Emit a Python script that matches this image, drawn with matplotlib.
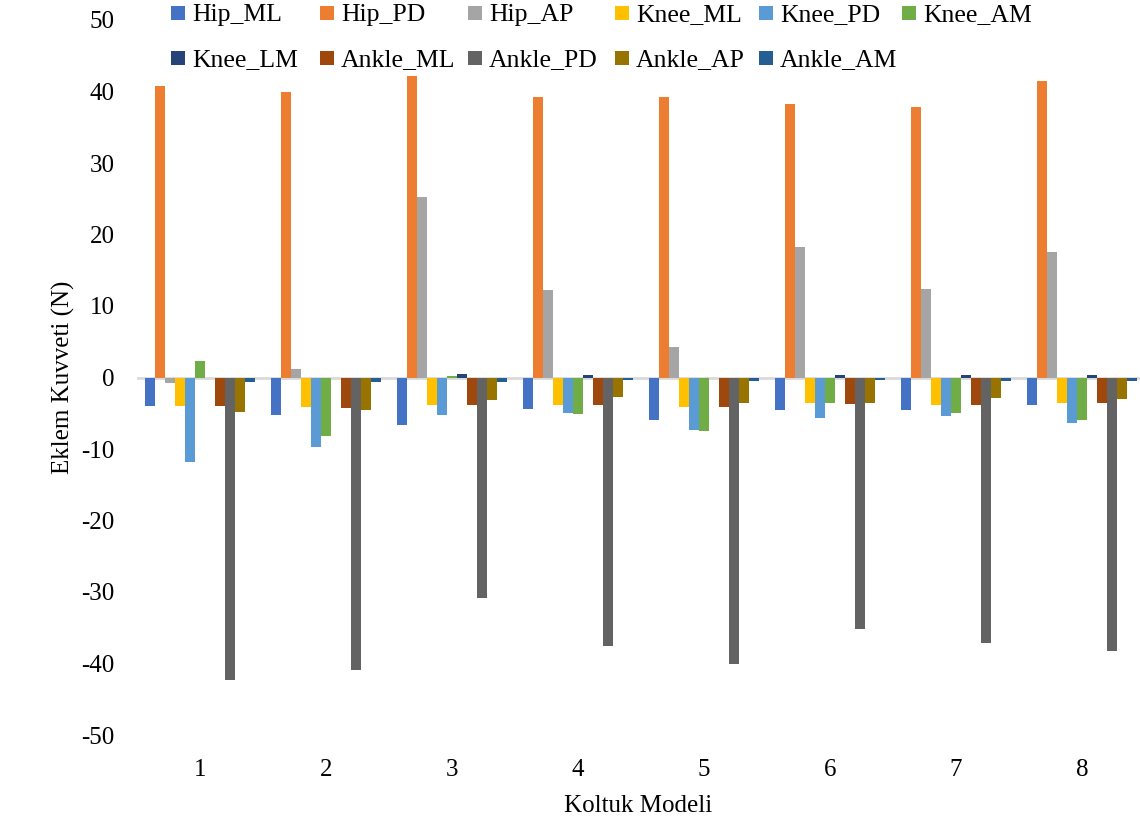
import matplotlib
matplotlib.use("Agg")
import matplotlib.pyplot as plt
from matplotlib.patches import Rectangle
import numpy as np

plt.rcParams['font.family'] = ['Liberation Serif', 'DejaVu Serif']

categories = ["1", "2", "3", "4", "5", "6", "7", "8"]
series_names = ["Hip_ML", "Hip_PD", "Hip_AP", "Knee_ML", "Knee_PD", "Knee_AM",
                "Knee_LM", "Ankle_ML", "Ankle_PD", "Ankle_AP", "Ankle_AM"]

hip_ml = [-4.0, -5.2, -6.7, -4.4, -6.0, -4.5, -4.5, -3.8]
hip_pd = [40.8, 40.0, 42.1, 39.2, 39.2, 38.3, 37.9, 41.5]
hip_ap = [-0.7, 1.2, 25.2, 12.2, 4.3, 18.2, 12.4, 17.5]
knee_ml = [-4.0, -4.15, -3.9, -3.8, -4.15, -3.6, -3.8, -3.55]
knee_pd = [-11.8, -9.75, -5.3, -5.0, -7.3, -5.7, -5.35, -6.4]
knee_am = [2.3, -8.2, 0.2, -5.1, -7.5, -3.5, -5.0, -6.0]
knee_lm = [0.0, 0.0, 0.5, 0.3, 0.0, 0.3, 0.4, 0.3]
ankle_ml = [-4.0, -4.25, -3.8, -3.8, -4.15, -3.7, -3.8, -3.5]
ankle_pd = [-42.3, -40.9, -30.8, -37.5, -40.0, -35.2, -37.1, -38.3]
ankle_ap = [-4.85, -4.5, -3.2, -2.75, -3.6, -3.6, -2.85, -3.0]
ankle_am = [-0.65, -0.65, -0.65, -0.4, -0.5, -0.35, -0.5, -0.5]

series_values = [hip_ml, hip_pd, hip_ap, knee_ml, knee_pd, knee_am,
                 knee_lm, ankle_ml, ankle_pd, ankle_ap, ankle_am]
colors = ["#4472C4", "#ED7D31", "#A5A5A5", "#FFC000", "#5B9BD5", "#70AD47",
          "#264478", "#9E480E", "#636363", "#997300", "#255E91"]

y_ticks = list(range(-50, 51, 10))

W, H = 1140, 824
fig = plt.figure(figsize=(W / 100, H / 100), dpi=100)
ax = fig.add_axes([137 / W, (H - 735) / H, 1003 / W, 715 / H])

x = np.arange(len(categories))
n = len(series_names)
bw = 10 / 126
for k, (name, vals, c) in enumerate(zip(series_names, series_values, colors)):
    ax.bar(x + (k - (n - 1) / 2) * bw, vals, width=bw, color=c, label=name,
           edgecolor='none', zorder=3)

ax.set_xlim(-0.5, 7.46)
ax.set_ylim(-50, 50)
ax.set_yticks(y_ticks)
ax.set_yticklabels([str(t) for t in y_ticks], fontsize=18)
ax.set_xticks(x)
ax.set_xticklabels(categories, fontsize=18)
ax.tick_params(axis='both', length=0)
ax.tick_params(axis='y', pad=16)
ax.tick_params(axis='x', pad=17)
for s in ax.spines.values():
    s.set_visible(False)
ax.axhline(0, color="#D9D9D9", lw=2, zorder=2)

ax.set_ylabel("Eklem Kuvveti (N)", fontsize=18, labelpad=5)
ax.set_xlabel("Koltuk Modeli", fontsize=18, labelpad=10)

# Legend laid out in a fixed grid (Excel style)
col_x = [171, 320, 468, 615, 759, 902]
row_y = [13, 58]
msz = 14
for i, (name, c) in enumerate(zip(series_names, colors)):
    r, col = divmod(i, 6)
    x0, yc = col_x[col], row_y[r]
    fig.patches.append(Rectangle((x0 / W, 1 - (yc + msz / 2) / H), msz / W, msz / H,
                                 transform=fig.transFigure, facecolor=c,
                                 edgecolor='none'))
    fig.text((x0 + 21) / W, 1 - yc / H, name, fontsize=18.5, va='center_baseline',
             ha='left')

fig.savefig("out.png", dpi=100)
